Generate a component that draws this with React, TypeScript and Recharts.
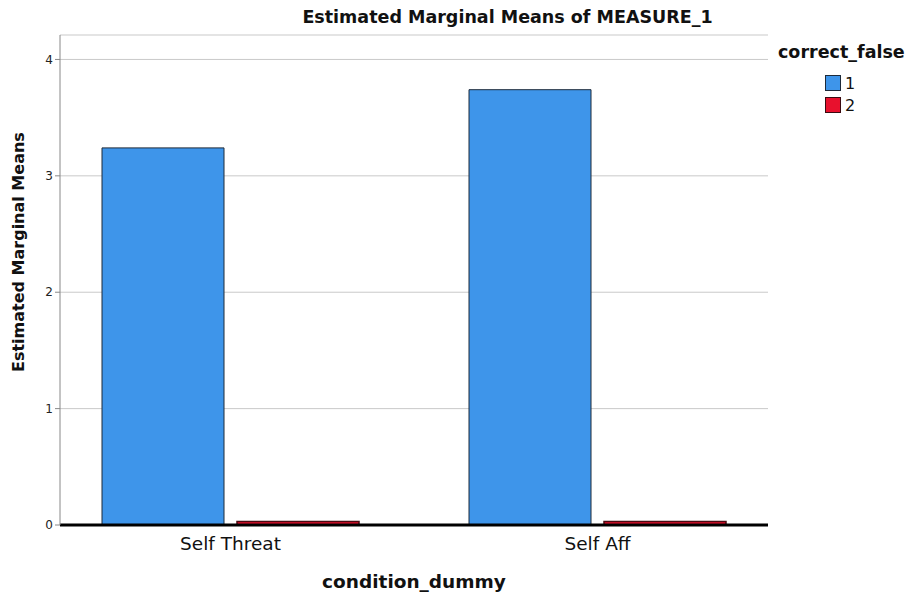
import { Bar, BarChart, CartesianGrid, XAxis, YAxis } from 'recharts';

const conditions = ['Self Threat', 'Self Aff'];
const correct1 = [3.24, 3.74];
const correct2 = [0.03, 0.03];
const yTicks = [0, 1, 2, 3, 4];

const data = conditions.map((c, i) => ({ condition: c, c1: correct1[i], c2: correct2[i] }));

const FONT = '"DejaVu Sans", sans-serif';

function Legend() {
  return (
    <div style={{ position: 'absolute', left: 778, top: 42, fontFamily: FONT, color: '#111' }}>
      <div style={{ fontWeight: 700, fontSize: 17.5, height: 30 }}>correct_false</div>
      {[
        { label: '1', fill: '#3e95ea', stroke: '#1d2a3a' },
        { label: '2', fill: '#e8112d', stroke: '#3a0a10' },
      ].map((it) => (
        <div key={it.label} style={{ display: 'flex', alignItems: 'center', marginLeft: 47, height: 22, fontSize: 16 }}>
          <span
            style={{
              display: 'inline-block',
              width: 14,
              height: 14,
              background: it.fill,
              border: `1px solid ${it.stroke}`,
              marginRight: 4,
            }}
          />
          {it.label}
        </div>
      ))}
    </div>
  );
}

export default function App() {
  return (
    <div style={{ position: 'absolute', left: 0, top: 0, width: 908, height: 596, background: '#fff' }}>
      <div
        style={{
          position: 'absolute',
          top: 7,
          left: 0,
          width: 1015,
          textAlign: 'center',
          fontFamily: FONT,
          fontWeight: 700,
          fontSize: 17.5,
          color: '#111',
        }}
      >
        Estimated Marginal Means of MEASURE_1
      </div>
      <Legend />
      <BarChart
        width={908}
        height={596}
        data={data}
        margin={{ top: 35, right: 140, left: 0, bottom: 0 }}
        barSize={122}
        barGap={13}
      >
        <CartesianGrid horizontal vertical={false} stroke="#c9c9c9" />
        <XAxis
          dataKey="condition"
          height={71}
          padding={{ left: -13, right: -13 }}
          axisLine={{ stroke: '#000', strokeWidth: 3 }}
          tickLine={false}
          tick={{ fill: '#111', fontSize: 18.5, fontFamily: FONT, dy: 4 }}
          label={{
            value: 'condition_dummy',
            position: 'insideBottom',
            offset: 8,
            fill: '#111',
            fontSize: 18.5,
            fontWeight: 700,
            fontFamily: FONT,
          }}
        />
        <YAxis
          width={60}
          domain={[0, 4.21]}
          ticks={yTicks}
          allowDataOverflow
          axisLine={{ stroke: '#888' }}
          tickLine={{ stroke: '#888' }}
          tickSize={5}
          tick={{ fill: '#222', fontSize: 12, fontFamily: FONT }}
          label={{
            value: 'Estimated Marginal Means',
            angle: -90,
            position: 'insideLeft',
            offset: 18,
            dy: 92,
            fill: '#111',
            fontSize: 16,
            fontWeight: 700,
            fontFamily: FONT,
          }}
        />
        <Bar dataKey="c1" fill="#3e95ea" stroke="#1d2a3a" strokeWidth={1} isAnimationActive={false} />
        <Bar dataKey="c2" fill="#e8112d" stroke="#4a0a12" strokeWidth={1.5} isAnimationActive={false} />
      </BarChart>
    </div>
  );
}
